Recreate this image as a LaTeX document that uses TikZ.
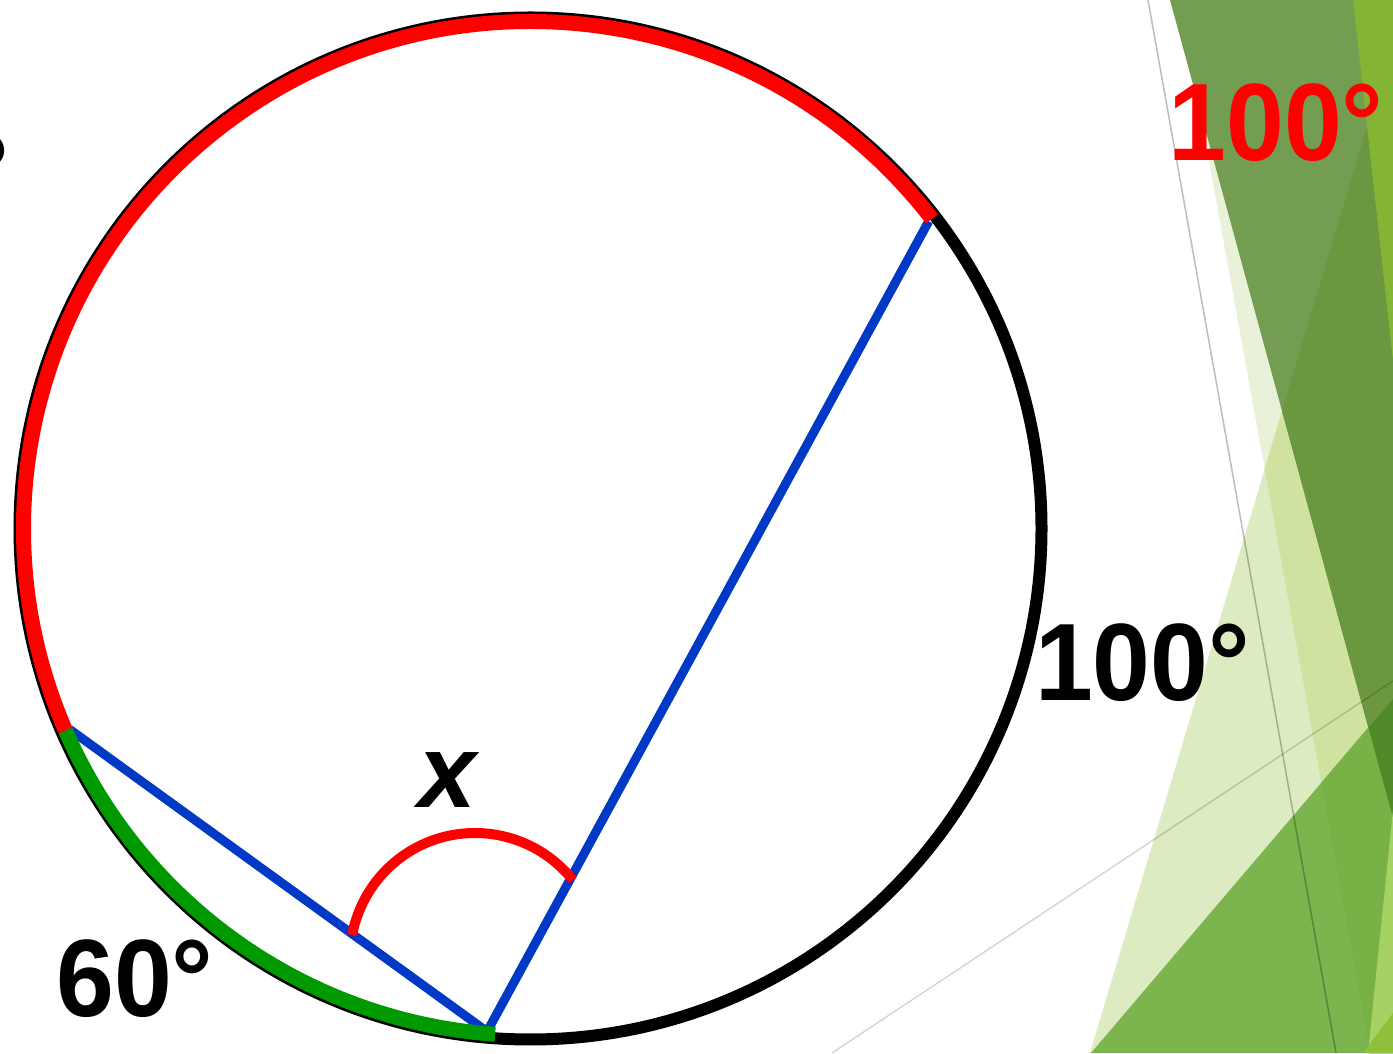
\documentclass[tikz,border=0pt]{standalone}
\usepackage{fontspec}
\setmainfont{Liberation Sans}
\usetikzlibrary{calc}
\definecolor{cWtwo}{RGB}{233,241,216}
\definecolor{cWone}{RGB}{221,235,194}
\definecolor{cWboth}{RGB}{207,226,160}
\definecolor{cDark}{RGB}{115,157,80}
\definecolor{cDarkW}{RGB}{106,151,64}
\definecolor{cMid}{RGB}{124,180,78}
\definecolor{cMidW}{RGB}{120,177,70}
\definecolor{cMidD}{RGB}{80,138,40}
\definecolor{cStripA}{RGB}{132,180,51}
\definecolor{cStripB}{RGB}{166,209,99}
\definecolor{cStripC}{RGB}{141,193,59}
\definecolor{arcred}{RGB}{255,0,0}
\definecolor{arcgreen}{RGB}{0,153,0}
\definecolor{chordblue}{RGB}{0,57,198}
\def\Wtwo{(1180,1053) -- (1420,1053) -- (1420,-10) -- (1372,-10) -- cycle}
\def\Wone{(1090,0) -- (1405,1053) -- (1420,1053) -- (1420,0) -- cycle}
\def\Dk{(1170,1053) -- (1420,1053) -- (1420,136) -- cycle}
\def\Md{(1091,0) -- (1420,386) -- (1420,0) -- cycle}
\begin{document}
\begin{tikzpicture}[x=1pt,y=1pt,
  lbl/.style={inner sep=0pt, xscale=0.945, transform shape, font=\fontsize{110}{110}\selectfont\bfseries},
  rim/.style={line width=#1, line cap=butt},
  chord/.style={draw=chordblue, line width=9, line join=miter},
  anglemark/.style={draw=arcred, line width=10, line cap=butt},
  faint/.style={draw=black, line width=1.5}]
\useasboundingbox (0,0) rectangle (1393,1053);
\fill[white] (0,0) rectangle (1393,1053);
% background facets
\fill[cWtwo] \Wtwo;
\fill[cWone] \Wone;
\begin{scope}\clip \Wone; \fill[cWboth] \Wtwo; \end{scope}
\fill[cDark] \Dk;
\begin{scope}\clip \Dk; \fill[cDarkW] \Wone; \end{scope}
\fill[cMid] \Md;
\begin{scope}\clip \Md; \fill[cMidW] \Wtwo; \end{scope}
\begin{scope}\clip \Md; \fill[cMidD] \Dk; \end{scope}
\fill[cStripA] (1353,1053) -- (1420,1053) -- (1420,449) -- cycle;
\fill[cStripB] (1368,0) -- (1420,506) -- (1420,0) -- cycle;
\fill[cStripC] (1363,0) -- (1420,76) -- (1420,0) -- cycle;
% faint lines
\coordinate (g1a) at (1148,1053);
\coordinate (g1b) at (1336,0);
\coordinate (g2a) at (832,0);
\coordinate (g2b) at (1393,372);
\draw[faint, opacity=0.26] (g1a) -- (g1b);
\draw[faint, opacity=0.16] (g2a) -- (g2b);
% chords (under the rim)
\coordinate (O) at (530.5,524.5);
\coordinate (P1) at ($(O)+(37.65:503)$);
\coordinate (P2) at ($(O)+(203.5:503)$);
\coordinate (P3) at ($(O)+(265.07:505)$);
\draw[chord] (P2) -- (P3) -- (P1);
% circle
\draw[rim=12, draw=black] (O) circle[radius=511];
\draw[rim=15, draw=arcred] (O) ++(37.65:507) arc[start angle=37.65, end angle=203.5, radius=507];
\draw[rim=15, draw=arcgreen] (O) ++(203.5:507) arc[start angle=203.5, end angle=266, radius=507];
% angle mark
\coordinate (C) at (475,95);
\draw[anglemark] (C) ++(38.5:125) arc[start angle=38.5, end angle=169.4, radius=125];
% labels
\node[lbl] (lblblack) at (1142.5,390.5) {100°};
\node[lbl, text=arcred] (lblred) at (1276,930) {100°};
\node[lbl] (lblsixty) at (135,74) {60°};
\node[inner sep=0pt, font=\fontsize{104}{104}\selectfont\bfseries\itshape] (lblx) at (447,273) {x};
\node[lbl, anchor=base east] (lblcut) at (9,842.5) {°};
\end{tikzpicture}
\end{document}
